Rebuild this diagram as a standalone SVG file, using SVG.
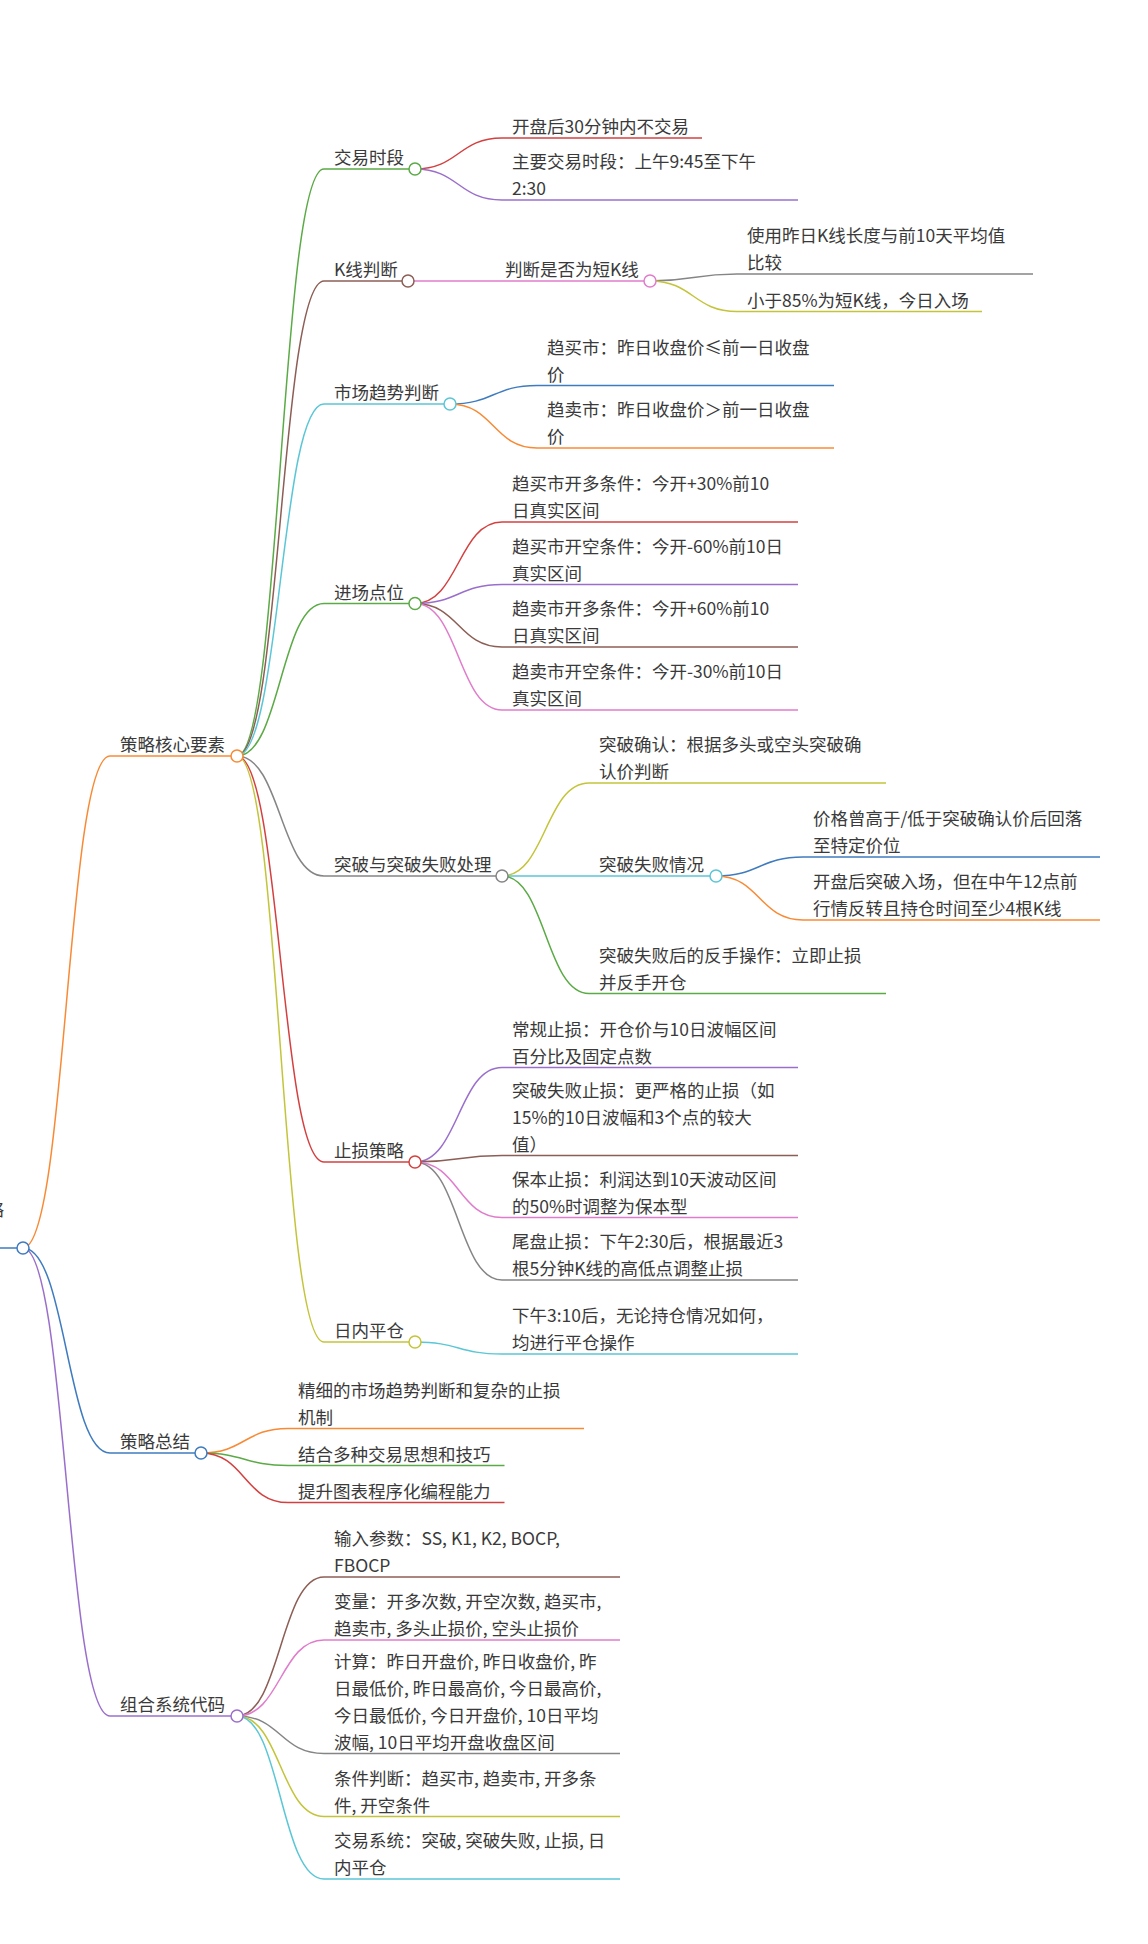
<svg xmlns="http://www.w3.org/2000/svg" width="1148" height="1944" viewBox="0 0 1148 1944">
<style>
text{font-family:"Noto Sans CJK SC","Noto Sans",sans-serif;font-size:17.5px;fill:#3a3a3a}
path{fill:none;stroke-width:1.5}
circle{fill:#fff;stroke-width:1.5}
.c0{stroke:#3f7bbf}.c1{stroke:#f88a35}.c2{stroke:#5aaa45}.c3{stroke:#d44040}.c4{stroke:#9a6fcc}
.c5{stroke:#8c5e55}.c6{stroke:#e07ccc}.c7{stroke:#858585}.c8{stroke:#c4c43a}.c9{stroke:#5ac6d6}
</style>
<rect width="1148" height="1944" fill="#fff"/>
<g id="connectors">
<path class="c1" d="M23,1248 C66.5,1248 66.5,756 110,756"/>
<path class="c0" d="M23,1248 C66.5,1248 66.5,1453 110,1453"/>
<path class="c4" d="M23,1248 C66.5,1248 66.5,1716 110,1716"/>
<path class="c2" d="M237,756 C280.5,756 280.5,169 324,169"/>
<path class="c5" d="M237,756 C280.5,756 280.5,281 324,281"/>
<path class="c9" d="M237,756 C280.5,756 280.5,404 324,404"/>
<path class="c2" d="M237,756 C280.5,756 280.5,603.5 324,603.5"/>
<path class="c7" d="M237,756 C280.5,756 280.5,876 324,876"/>
<path class="c3" d="M237,756 C280.5,756 280.5,1162 324,1162"/>
<path class="c8" d="M237,756 C280.5,756 280.5,1342 324,1342"/>
<path class="c3" d="M415,169 C458.5,169 458.5,138 502,138"/>
<path class="c4" d="M415,169 C458.5,169 458.5,200 502,200"/>
<path class="c6" d="M408,281 L495,281"/>
<path class="c7" d="M650,281 C693.5,281 693.5,274 737,274"/>
<path class="c8" d="M650,281 C693.5,281 693.5,311.5 737,311.5"/>
<path class="c0" d="M450,404 C493.5,404 493.5,385.5 537,385.5"/>
<path class="c1" d="M450,404 C493.5,404 493.5,448 537,448"/>
<path class="c3" d="M415,603.5 C458.5,603.5 458.5,522 502,522"/>
<path class="c4" d="M415,603.5 C458.5,603.5 458.5,584.5 502,584.5"/>
<path class="c5" d="M415,603.5 C458.5,603.5 458.5,647 502,647"/>
<path class="c6" d="M415,603.5 C458.5,603.5 458.5,710 502,710"/>
<path class="c8" d="M502,876 C545.5,876 545.5,783 589,783"/>
<path class="c9" d="M502,876 L589,876"/>
<path class="c2" d="M502,876 C545.5,876 545.5,993.5 589,993.5"/>
<path class="c0" d="M716,876 C759.5,876 759.5,857 803,857"/>
<path class="c1" d="M716,876 C759.5,876 759.5,920 803,920"/>
<path class="c4" d="M415,1162 C458.5,1162 458.5,1067.5 502,1067.5"/>
<path class="c5" d="M415,1162 C458.5,1162 458.5,1155.5 502,1155.5"/>
<path class="c6" d="M415,1162 C458.5,1162 458.5,1217.5 502,1217.5"/>
<path class="c7" d="M415,1162 C458.5,1162 458.5,1280 502,1280"/>
<path class="c9" d="M415,1342 C458.5,1342 458.5,1354 502,1354"/>
<path class="c1" d="M201,1453 C244.5,1453 244.5,1428.5 288,1428.5"/>
<path class="c2" d="M201,1453 C244.5,1453 244.5,1465.5 288,1465.5"/>
<path class="c3" d="M201,1453 C244.5,1453 244.5,1502.5 288,1502.5"/>
<path class="c5" d="M237,1716 C280.5,1716 280.5,1577 324,1577"/>
<path class="c6" d="M237,1716 C280.5,1716 280.5,1640 324,1640"/>
<path class="c7" d="M237,1716 C280.5,1716 280.5,1753.5 324,1753.5"/>
<path class="c8" d="M237,1716 C280.5,1716 280.5,1816.5 324,1816.5"/>
<path class="c9" d="M237,1716 C280.5,1716 280.5,1879 324,1879"/>
</g>

<g id="root"><path class="c0" d="M-200,1248 H23"/><circle class="c0" cx="23" cy="1248" r="6"/>
<text x="4" y="1216.3" text-anchor="end">日内交易策略</text></g>

<g id="n1"><path class="c1" d="M110,756 H237"/><circle class="c1" cx="237" cy="756" r="6"/><text x="120" y="751">策略核心要素</text></g>
<g id="n2"><path class="c0" d="M110,1453 H201"/><circle class="c0" cx="201" cy="1453" r="6"/><text x="120" y="1448">策略总结</text></g>
<g id="n3"><path class="c4" d="M110,1716 H237"/><circle class="c4" cx="237" cy="1716" r="6"/><text x="120" y="1711">组合系统代码</text></g>

<g id="n1-1"><path class="c2" d="M324,169 H415"/><circle class="c2" cx="415" cy="169" r="6"/><text x="334" y="164">交易时段</text></g>
<g id="n1-1-1"><path class="c3" d="M502,138 H702"/><text x="512" y="133">开盘后30分钟内不交易</text></g>
<g id="n1-1-2"><path class="c4" d="M502,200 H798"/><text x="512" y="168.3">主要交易时段：上午9:45至下午<tspan x="512" dy="26.7">2:30</tspan></text></g>

<g id="n1-2"><path class="c5" d="M324,281 H408"/><circle class="c5" cx="408" cy="281" r="6"/><text x="334" y="276">K线判断</text></g>
<g id="n1-2-1"><path class="c6" d="M495,281 H650"/><circle class="c6" cx="650" cy="281" r="6"/><text x="505" y="276">判断是否为短K线</text></g>
<g id="n1-2-1-1"><path class="c7" d="M737,274 H1033"/><text x="747" y="242.3">使用昨日K线长度与前10天平均值<tspan x="747" dy="26.7">比较</tspan></text></g>
<g id="n1-2-1-2"><path class="c8" d="M737,311.5 H982"/><text x="747" y="306.5">小于85%为短K线，今日入场</text></g>

<g id="n1-3"><path class="c9" d="M324,404 H450"/><circle class="c9" cx="450" cy="404" r="6"/><text x="334" y="399">市场趋势判断</text></g>
<g id="n1-3-1"><path class="c0" d="M537,385.5 H834"/><text x="547" y="353.8">趋买市：昨日收盘价≤前一日收盘<tspan x="547" dy="26.7">价</tspan></text></g>
<g id="n1-3-2"><path class="c1" d="M537,448 H834"/><text x="547" y="416.3">趋卖市：昨日收盘价＞前一日收盘<tspan x="547" dy="26.7">价</tspan></text></g>

<g id="n1-4"><path class="c2" d="M324,603.5 H415"/><circle class="c2" cx="415" cy="603.5" r="6"/><text x="334" y="598.5">进场点位</text></g>
<g id="n1-4-1"><path class="c3" d="M502,522 H798"/><text x="512" y="490.3">趋买市开多条件：今开+30%前10<tspan x="512" dy="26.7">日真实区间</tspan></text></g>
<g id="n1-4-2"><path class="c4" d="M502,584.5 H798"/><text x="512" y="552.8">趋买市开空条件：今开-60%前10日<tspan x="512" dy="26.7">真实区间</tspan></text></g>
<g id="n1-4-3"><path class="c5" d="M502,647 H798"/><text x="512" y="615.3">趋卖市开多条件：今开+60%前10<tspan x="512" dy="26.7">日真实区间</tspan></text></g>
<g id="n1-4-4"><path class="c6" d="M502,710 H798"/><text x="512" y="678.3">趋卖市开空条件：今开-30%前10日<tspan x="512" dy="26.7">真实区间</tspan></text></g>

<g id="n1-5"><path class="c7" d="M324,876 H502"/><circle class="c7" cx="502" cy="876" r="6"/><text x="334" y="871">突破与突破失败处理</text></g>
<g id="n1-5-1"><path class="c8" d="M589,783 H886"/><text x="599" y="751.3">突破确认：根据多头或空头突破确<tspan x="599" dy="26.7">认价判断</tspan></text></g>
<g id="n1-5-2"><path class="c9" d="M589,876 H716"/><circle class="c9" cx="716" cy="876" r="6"/><text x="599" y="871">突破失败情况</text></g>
<g id="n1-5-2-1"><path class="c0" d="M803,857 H1100"/><text x="813" y="825.3">价格曾高于/低于突破确认价后回落<tspan x="813" dy="26.7">至特定价位</tspan></text></g>
<g id="n1-5-2-2"><path class="c1" d="M803,920 H1100"/><text x="813" y="888.3">开盘后突破入场，但在中午12点前<tspan x="813" dy="26.7">行情反转且持仓时间至少4根K线</tspan></text></g>
<g id="n1-5-3"><path class="c2" d="M589,993.5 H886"/><text x="599" y="961.8">突破失败后的反手操作：立即止损<tspan x="599" dy="26.7">并反手开仓</tspan></text></g>

<g id="n1-6"><path class="c3" d="M324,1162 H415"/><circle class="c3" cx="415" cy="1162" r="6"/><text x="334" y="1157">止损策略</text></g>
<g id="n1-6-1"><path class="c4" d="M502,1067.5 H798"/><text x="512" y="1035.8">常规止损：开仓价与10日波幅区间<tspan x="512" dy="26.7">百分比及固定点数</tspan></text></g>
<g id="n1-6-2"><path class="c5" d="M502,1155.5 H798"/><text x="512" y="1097.1">突破失败止损：更严格的止损（如<tspan x="512" dy="26.7">15%的10日波幅和3个点的较大</tspan><tspan x="512" dy="26.7">值）</tspan></text></g>
<g id="n1-6-3"><path class="c6" d="M502,1217.5 H798"/><text x="512" y="1185.8">保本止损：利润达到10天波动区间<tspan x="512" dy="26.7">的50%时调整为保本型</tspan></text></g>
<g id="n1-6-4"><path class="c7" d="M502,1280 H798"/><text x="512" y="1248.3">尾盘止损：下午2:30后，根据最近3<tspan x="512" dy="26.7">根5分钟K线的高低点调整止损</tspan></text></g>

<g id="n1-7"><path class="c8" d="M324,1342 H415"/><circle class="c8" cx="415" cy="1342" r="6"/><text x="334" y="1337">日内平仓</text></g>
<g id="n1-7-1"><path class="c9" d="M502,1354 H798"/><text x="512" y="1322.3">下午3:10后，无论持仓情况如何，<tspan x="512" dy="26.7">均进行平仓操作</tspan></text></g>

<g id="n2-1"><path class="c1" d="M288,1428.5 H584"/><text x="298" y="1396.8">精细的市场趋势判断和复杂的止损<tspan x="298" dy="26.7">机制</tspan></text></g>
<g id="n2-2"><path class="c2" d="M288,1465.5 H504.5"/><text x="298" y="1460.5">结合多种交易思想和技巧</text></g>
<g id="n2-3"><path class="c3" d="M288,1502.5 H504.5"/><text x="298" y="1497.5">提升图表程序化编程能力</text></g>

<g id="n3-1"><path class="c5" d="M324,1577 H620"/><text x="334" y="1545.3">输入参数：SS, K1, K2, BOCP,<tspan x="334" dy="26.7">FBOCP</tspan></text></g>
<g id="n3-2"><path class="c6" d="M324,1640 H620"/><text x="334" y="1608.3">变量：开多次数, 开空次数, 趋买市,<tspan x="334" dy="26.7">趋卖市, 多头止损价, 空头止损价</tspan></text></g>
<g id="n3-3"><path class="c7" d="M324,1753.5 H620"/><text x="334" y="1668.4">计算：昨日开盘价, 昨日收盘价, 昨<tspan x="334" dy="26.7">日最低价, 昨日最高价, 今日最高价,</tspan><tspan x="334" dy="26.7">今日最低价, 今日开盘价, 10日平均</tspan><tspan x="334" dy="26.7">波幅, 10日平均开盘收盘区间</tspan></text></g>
<g id="n3-4"><path class="c8" d="M324,1816.5 H620"/><text x="334" y="1784.8">条件判断：趋买市, 趋卖市, 开多条<tspan x="334" dy="26.7">件, 开空条件</tspan></text></g>
<g id="n3-5"><path class="c9" d="M324,1879 H620"/><text x="334" y="1847.3">交易系统：突破, 突破失败, 止损, 日<tspan x="334" dy="26.7">内平仓</tspan></text></g>
</svg>
